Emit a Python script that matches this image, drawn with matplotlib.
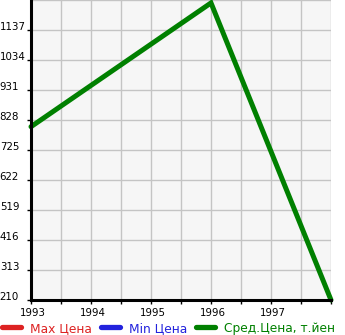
import matplotlib
matplotlib.use("Agg")
import matplotlib.pyplot as plt
import matplotlib.transforms as mtransforms
from matplotlib.lines import Line2D

years = [1993, 1996, 1998]
avg_price = [805, 1230, 210]
max_price = []
min_price = []
max_years = []
min_years = []
yticks = [210, 313, 416, 519, 622, 725, 828, 931, 1034, 1137]
xticks_major = [1993, 1994, 1995, 1996, 1997]
series_labels = ["Max Цена", "Min Цена", "Сред.Цена, т.йен"]
series_colors = ["#dd2222", "#2222dd", "#008000"]

W, H = 345, 335
fig = plt.figure(figsize=(W / 100, H / 100), dpi=100)
ax = fig.add_axes([31 / W, (H - 300) / H, 300 / W, 300 / H])
ax.set_facecolor("#f6f6f6")

ax.plot(max_years, max_price, color=series_colors[0], lw=3.6)
ax.plot(min_years, min_price, color=series_colors[1], lw=3.6)
ax.plot(years, avg_price, color=series_colors[2], lw=3.6, solid_capstyle="round",
        solid_joinstyle="miter", clip_on=False, zorder=5)

ax.set_xlim(1993, 1998)
ax.set_ylim(210, 1240)

# grid: half-year vertical, every 103 horizontal
xgrid = [1993 + 0.5 * i for i in range(11)]
ax.set_xticks(xgrid)
ax.set_xticklabels([str(int(x)) if x in xticks_major else "" for x in xgrid])
ax.set_yticks(yticks)
ax.set_yticklabels([str(v) for v in yticks])
for y in yticks + [1240]:
    ax.axhline(y, color="#c4c4c4", lw=1.0, zorder=1)
for x in xgrid:
    ax.axvline(x, color="#c4c4c4", lw=1.0, zorder=1)

ax.tick_params(axis="y", length=3, width=1, pad=19.5, labelsize=7.4, color="black")
ax.tick_params(axis="x", length=3, width=1, pad=2.5, labelsize=7.4, color="black")
for lab in ax.get_yticklabels():
    lab.set_horizontalalignment("left")
    lab.set_verticalalignment("baseline")
for lab in ax.get_xticklabels():
    lab.set_transform(lab.get_transform() + mtransforms.ScaledTranslation(2 / 100, 0, fig.dpi_scale_trans))

for s in ["top", "right"]:
    ax.spines[s].set_visible(False)
for s in ["left", "bottom"]:
    ax.spines[s].set_linewidth(2.2)
    ax.spines[s].set_color("black")
    ax.spines[s].set_zorder(6)

handles = [Line2D([], [], color=c, lw=3.8, solid_capstyle="round") for c in series_colors]
leg = fig.legend(handles, series_labels, loc="lower left", bbox_to_anchor=(0.0, -0.006),
                 ncol=3, frameon=False, fontsize=8.8, handlelength=1.55,
                 handletextpad=0.74, columnspacing=0.72, borderpad=0.2, borderaxespad=0)
for t, c in zip(leg.get_texts(), series_colors):
    t.set_color(c)

fig.savefig("out.png", dpi=100)
